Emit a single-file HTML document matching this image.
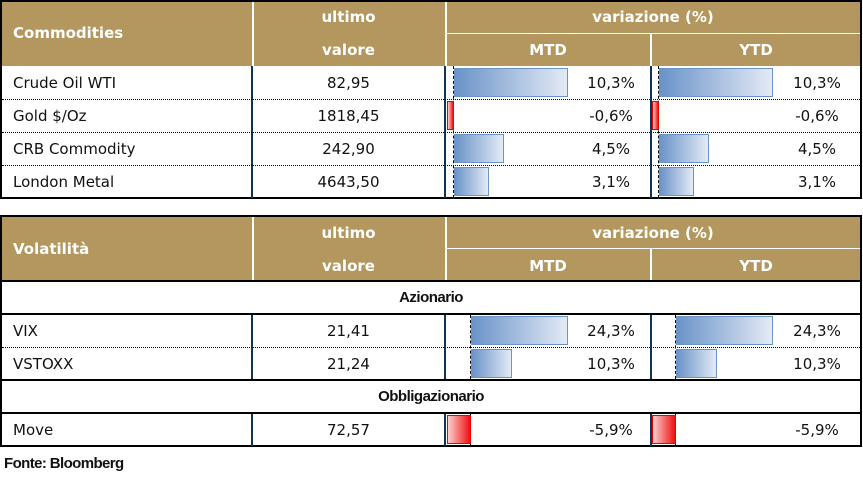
<!DOCTYPE html>
<html><head><meta charset="utf-8"><style>
*{margin:0;padding:0;box-sizing:border-box}
body{width:863px;height:481px;background:#fff;position:relative;overflow:hidden;font-family:"DejaVu Sans","Liberation Sans",sans-serif;font-size:15px;color:#111}
.a{position:absolute}
.hd{background:#b3975e}
.wt{color:#fff;font-weight:bold;font-size:15px}
.vl{width:2px;background:#0e3557}
.wl{width:2px;background:#fff}
.dl{height:0;border-top:1px dotted #000}
.bl{height:2px;background:#000}
.ax{width:0;border-left:1px dashed #000}
.bb{background:linear-gradient(to right,#6a93c8,#e3eaf5);border:1px solid #6a93c8}
.rb{background:linear-gradient(to left,#f01010,#fbd0d0);border:1px solid #e00}
.c{text-align:center}
.pc{width:80px;text-align:center}
</style></head><body>
<!-- Table 1 -->
<div class="a hd" style="left:0;top:0;width:862px;height:66px"></div>
<div class="a" style="left:0;top:0;width:862px;height:199px;border:2px solid #000"></div>
<div class="a wl" style="left:252px;top:2px;height:64px"></div>
<div class="a wl" style="left:445px;top:2px;height:64px"></div>
<div class="a" style="left:446px;top:33px;width:414px;height:1px;background:#fff"></div>
<div class="a wl" style="left:650px;top:34px;height:32px"></div>
<div class="a wt" style="left:13px;top:24px">Commodities</div>
<div class="a wt c" style="left:252px;width:193px;top:8px">ultimo</div>
<div class="a wt c" style="left:252px;width:193px;top:41px">valore</div>
<div class="a wt c" style="left:445px;width:416px;top:8px">variazione (%)</div>
<div class="a wt c" style="left:445px;width:206px;top:41px">MTD</div>
<div class="a wt c" style="left:651px;width:210px;top:41px">YTD</div>
<div class="a vl" style="left:251px;top:66px;height:132px"></div>
<div class="a vl" style="left:444px;top:66px;height:132px"></div>
<div class="a vl" style="left:650px;top:66px;height:132px"></div>
<div class="a dl" style="left:2px;top:99px;width:858px"></div>
<div class="a dl" style="left:2px;top:132px;width:858px"></div>
<div class="a dl" style="left:2px;top:165px;width:858px"></div>
<div class="a ax" style="left:453px;top:66px;height:132px"></div>
<div class="a ax" style="left:658px;top:66px;height:132px"></div>
<!-- rows -->
<div class="a" style="left:13px;top:74px">Crude Oil WTI</div>
<div class="a" style="left:13px;top:107px">Gold $/Oz</div>
<div class="a" style="left:13px;top:140px">CRB Commodity</div>
<div class="a" style="left:13px;top:173px">London Metal</div>
<div class="a c" style="left:252px;width:193px;top:74px">82,95</div>
<div class="a c" style="left:252px;width:193px;top:107px">1818,45</div>
<div class="a c" style="left:252px;width:193px;top:140px">242,90</div>
<div class="a c" style="left:252px;width:193px;top:173px">4643,50</div>
<div class="a bb" style="left:454px;top:68px;width:114px;height:29px"></div>
<div class="a rb" style="left:447px;top:101px;width:7px;height:29px"></div>
<div class="a bb" style="left:454px;top:134px;width:50px;height:29px"></div>
<div class="a bb" style="left:454px;top:167px;width:35px;height:29px"></div>
<div class="a bb" style="left:659px;top:68px;width:114px;height:29px"></div>
<div class="a rb" style="left:652px;top:101px;width:7px;height:29px"></div>
<div class="a bb" style="left:659px;top:134px;width:50px;height:29px"></div>
<div class="a bb" style="left:659px;top:167px;width:35px;height:29px"></div>
<div class="a pc" style="left:571px;top:74px">10,3%</div>
<div class="a pc" style="left:571px;top:107px">-0,6%</div>
<div class="a pc" style="left:571px;top:140px">4,5%</div>
<div class="a pc" style="left:571px;top:173px">3,1%</div>
<div class="a pc" style="left:777px;top:74px">10,3%</div>
<div class="a pc" style="left:777px;top:107px">-0,6%</div>
<div class="a pc" style="left:777px;top:140px">4,5%</div>
<div class="a pc" style="left:777px;top:173px">3,1%</div>
<!-- Table 2 -->
<div class="a hd" style="left:0;top:215px;width:862px;height:66px"></div>
<div class="a" style="left:0;top:215px;width:862px;height:232px;border:2px solid #000"></div>
<div class="a wl" style="left:252px;top:217px;height:64px"></div>
<div class="a wl" style="left:445px;top:217px;height:64px"></div>
<div class="a" style="left:446px;top:248px;width:414px;height:1px;background:#fff"></div>
<div class="a wl" style="left:650px;top:249px;height:32px"></div>
<div class="a wt" style="left:13px;top:240px">Volatilità</div>
<div class="a wt c" style="left:252px;width:193px;top:224px">ultimo</div>
<div class="a wt c" style="left:252px;width:193px;top:257px">valore</div>
<div class="a wt c" style="left:445px;width:416px;top:224px">variazione (%)</div>
<div class="a wt c" style="left:445px;width:206px;top:257px">MTD</div>
<div class="a wt c" style="left:651px;width:210px;top:257px">YTD</div>
<div class="a bl" style="left:0;top:280px;width:862px"></div>
<div class="a" style="left:0;width:862px;top:289px;text-align:center;font-weight:bold;font-family:'Liberation Sans',sans-serif;letter-spacing:-0.5px">Azionario</div>
<div class="a bl" style="left:0;top:313px;width:862px"></div>
<div class="a dl" style="left:2px;top:347px;width:858px"></div>
<div class="a bl" style="left:0;top:379px;width:862px"></div>
<div class="a" style="left:0;width:862px;top:388px;text-align:center;font-weight:bold;font-family:'Liberation Sans',sans-serif;letter-spacing:-0.5px">Obbligazionario</div>
<div class="a bl" style="left:0;top:412px;width:862px"></div>
<div class="a vl" style="left:251px;top:315px;height:64px"></div>
<div class="a vl" style="left:444px;top:315px;height:64px"></div>
<div class="a vl" style="left:650px;top:315px;height:64px"></div>
<div class="a vl" style="left:251px;top:414px;height:32px"></div>
<div class="a vl" style="left:444px;top:414px;height:32px"></div>
<div class="a vl" style="left:650px;top:414px;height:32px"></div>
<div class="a ax" style="left:470px;top:315px;height:64px"></div>
<div class="a ax" style="left:675px;top:315px;height:64px"></div>
<div class="a ax" style="left:470px;top:414px;height:32px"></div>
<div class="a ax" style="left:675px;top:414px;height:32px"></div>
<div class="a" style="left:13px;top:322px">VIX</div>
<div class="a" style="left:13px;top:355px">VSTOXX</div>
<div class="a" style="left:13px;top:421px">Move</div>
<div class="a c" style="left:252px;width:193px;top:322px">21,41</div>
<div class="a c" style="left:252px;width:193px;top:355px">21,24</div>
<div class="a c" style="left:252px;width:193px;top:421px">72,57</div>
<div class="a bb" style="left:471px;top:316px;width:97px;height:29px"></div>
<div class="a bb" style="left:471px;top:349px;width:41px;height:29px"></div>
<div class="a rb" style="left:447px;top:415px;width:24px;height:29px"></div>
<div class="a bb" style="left:676px;top:316px;width:97px;height:29px"></div>
<div class="a bb" style="left:676px;top:349px;width:41px;height:29px"></div>
<div class="a rb" style="left:652px;top:415px;width:24px;height:29px"></div>
<div class="a pc" style="left:571px;top:322px">24,3%</div>
<div class="a pc" style="left:571px;top:355px">10,3%</div>
<div class="a pc" style="left:571px;top:421px">-5,9%</div>
<div class="a pc" style="left:777px;top:322px">24,3%</div>
<div class="a pc" style="left:777px;top:355px">10,3%</div>
<div class="a pc" style="left:777px;top:421px">-5,9%</div>
<div class="a" style="left:4px;top:455px;font-weight:bold;font-family:'Liberation Sans',sans-serif;font-size:15px;letter-spacing:-0.6px">Fonte: Bloomberg</div>
</body></html>
